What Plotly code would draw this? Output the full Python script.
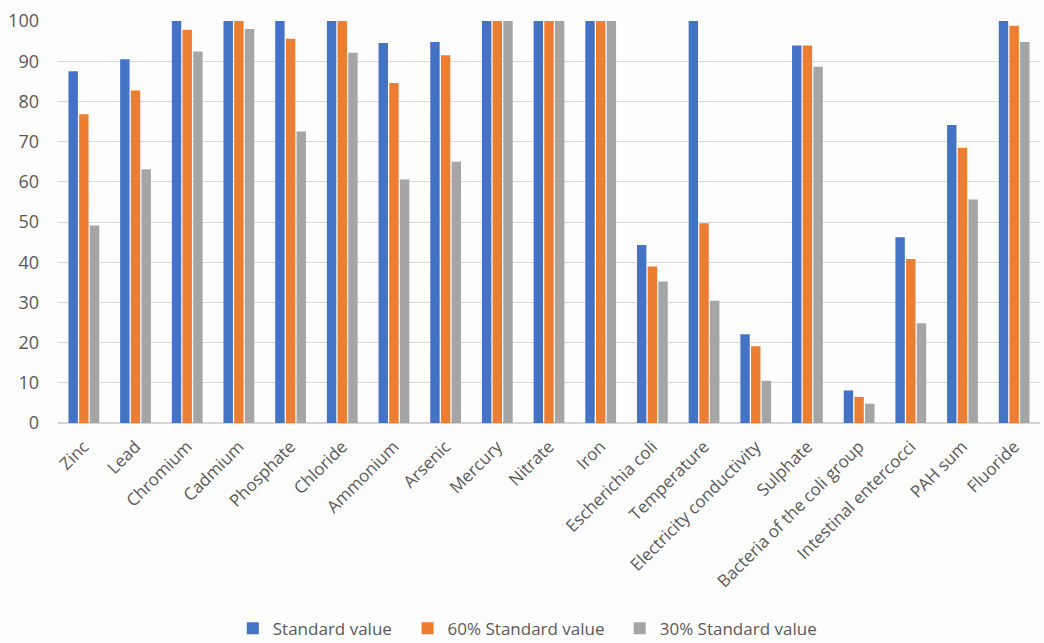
import plotly.graph_objects as go

# Parameters monitored
categories = [
    "Zinc", "Lead", "Chromium", "Cadmium", "Phosphate", "Chloride", "Ammonium",
    "Arsenic", "Mercury", "Nitrate", "Iron", "Escherichia coli", "Temperature",
    "Electricity conductivity", "Sulphate", "Bacteria of the coli group",
    "Intestinal entercocci", "PAH sum", "Fluoride",
]

# Share of samples (%) meeting each threshold
standard_value = [87.5, 90.5, 100, 100, 100, 100, 94.5, 94.8, 100, 100, 100,
                  44.3, 100, 22.1, 93.9, 8.1, 46.2, 74.1, 100]
standard_60 = [76.8, 82.7, 97.8, 100, 95.6, 100, 84.6, 91.5, 100, 100, 100,
               38.9, 49.7, 19.1, 93.9, 6.5, 40.8, 68.5, 98.8]
standard_30 = [49.1, 63.1, 92.4, 98.0, 72.5, 92.1, 60.6, 65.0, 100, 100, 100,
               35.2, 30.4, 10.5, 88.6, 4.8, 24.8, 55.6, 94.8]

series_names = ["Standard value", "60% Standard value", "30% Standard value"]
series_values = [standard_value, standard_60, standard_30]
series_colors = ["#4472C4", "#ED7D31", "#A5A5A5"]

y_ticks = [0, 10, 20, 30, 40, 50, 60, 70, 80, 90, 100]

font_family = "'Open Sans', sans-serif"
text_color = "#595959"

# One single-item legend per series, spread along the bottom
legend_ids = ["legend", "legend2", "legend3"]
legend_x = [0.178, 0.356, 0.572]

fig = go.Figure()
for name, vals, color, lid in zip(series_names, series_values, series_colors, legend_ids):
    fig.add_trace(go.Bar(
        x=categories, y=vals, name=name, legend=lid,
        marker=dict(color=color, line=dict(width=0)),
    ))

legend_style = dict(
    orientation="h", xanchor="left", y=-0.512, yanchor="middle",
    font=dict(size=17, color=text_color), itemwidth=30,
    bgcolor="rgba(0,0,0,0)",
)

fig.update_layout(
    width=1044, height=643,
    barmode="group", bargap=0.38, bargroupgap=0.12,
    paper_bgcolor="#fdfdfd", plot_bgcolor="#fdfdfd",
    margin=dict(l=58, r=4, t=21, b=220, autoexpand=False),
    font=dict(family=font_family, color=text_color),
    showlegend=True,
    legend=dict(x=legend_x[0], **legend_style),
    legend2=dict(x=legend_x[1], **legend_style),
    legend3=dict(x=legend_x[2], **legend_style),
    xaxis=dict(
        tickangle=-45, tickfont=dict(size=17, color=text_color),
        showgrid=False, showline=True, linecolor="#d4d4d4", linewidth=1,
        ticks="", automargin=False, ticklabelstandoff=6,
    ),
    yaxis=dict(
        range=[0, 100], tickvals=y_ticks,
        tickfont=dict(size=18, color=text_color),
        showgrid=True, gridcolor="#d9d9d9", gridwidth=1,
        zeroline=True, zerolinecolor="#d4d4d4", showline=False,
        ticks="", ticklabelstandoff=18, automargin=False,
    ),
)

fig.write_html("out.html")
